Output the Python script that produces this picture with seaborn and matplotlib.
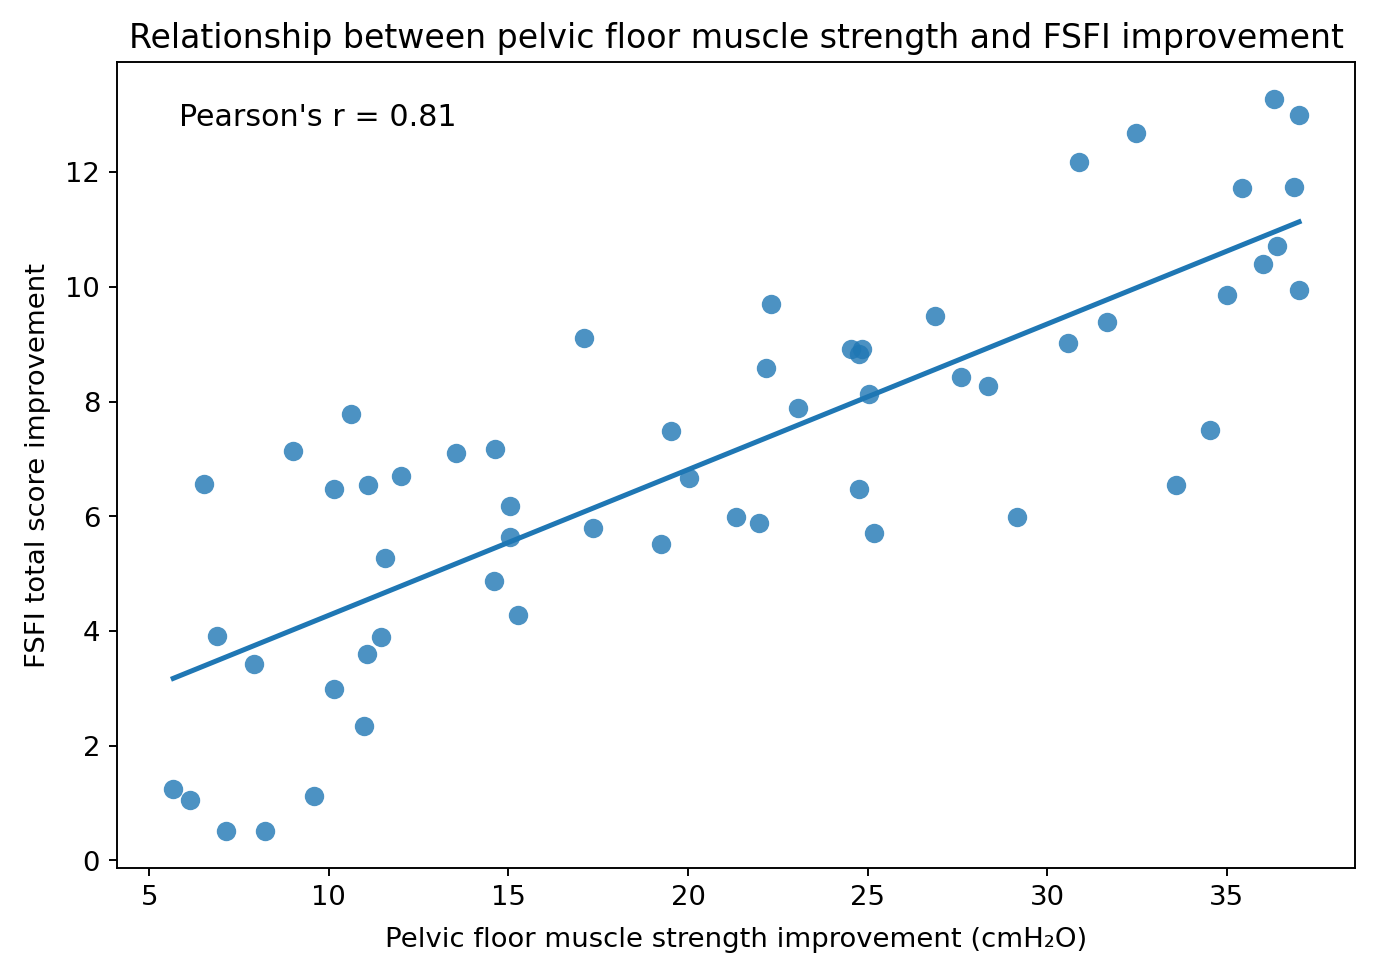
import numpy as np
import pandas as pd
import matplotlib
matplotlib.use('Agg')
import matplotlib.pyplot as plt
import seaborn as sns

# values
strength_gain = [5.67, 6.14, 7.14, 8.23, 9.59, 6.53, 6.89, 7.92, 9.01, 10.15,
                 10.62, 10.15, 10.98, 11.07, 11.10, 11.46, 11.57, 12.01, 13.54, 14.63,
                 14.60, 15.05, 15.05, 15.27, 17.11, 17.36, 19.25, 19.53, 20.03, 21.34,
                 21.98, 22.17, 22.31, 23.06, 24.54, 24.76, 24.84, 24.76, 25.04, 25.18,
                 26.88, 27.60, 28.35, 29.16, 30.58, 30.88, 31.66, 32.47, 33.58, 34.53,
                 35.00, 35.42, 36.00, 36.31, 36.39, 36.87, 37.01, 37.01]
fsfi_gain = [1.24, 1.06, 0.51, 0.51, 1.13, 6.57, 3.92, 3.43, 7.14, 6.48,
             7.79, 2.98, 2.35, 3.59, 6.55, 3.89, 5.28, 6.71, 7.11, 7.18,
             4.88, 6.18, 5.63, 4.27, 9.11, 5.80, 5.51, 7.49, 6.66, 5.99,
             5.89, 8.59, 9.70, 7.89, 8.92, 8.83, 8.92, 6.48, 8.14, 5.71,
             9.49, 8.43, 8.28, 5.98, 9.02, 12.18, 9.39, 12.68, 6.55, 7.51,
             9.86, 11.72, 10.40, 13.28, 10.71, 11.74, 13.00, 9.95]

df = pd.DataFrame({'strength': strength_gain, 'fsfi': fsfi_gain})
r = 0.81

fig, ax = plt.subplots(figsize=(8, 5.67), dpi=172)
sns.regplot(x='strength', y='fsfi', data=df, ci=None, ax=ax,
            scatter_kws={'s': 66, 'alpha': 0.8, 'linewidths': 0},
            line_kws={'linewidth': 2.1})
ax.text(0.05, 0.95, f"Pearson's r = {r:.2f}", transform=ax.transAxes,
        va='top', fontsize=12.6)
ax.set_title('Relationship between pelvic floor muscle strength and FSFI improvement',
             fontsize=13.9)
ax.set_xlabel('Pelvic floor muscle strength improvement (cmH\u2082O)', fontsize=11.5,
              labelpad=7)
ax.set_ylabel('FSFI total score improvement', fontsize=11.5, labelpad=6)
ax.tick_params(labelsize=11.5)
fig.subplots_adjust(left=0.085, right=0.985, top=0.936, bottom=0.11)
fig.savefig('out.png', dpi=172)
